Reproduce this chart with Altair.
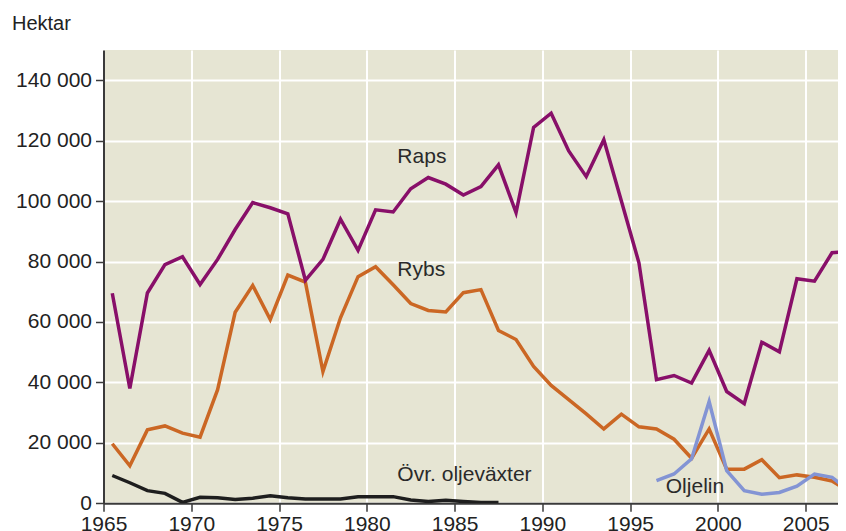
import altair as alt
import pandas as pd

# ---- data (hectares) ----
years_main = list(range(1965, 2008))
raps = [69500, 38000, 69600, 79000, 81600, 72400, 80700, 90600, 99500, 97800,
        95800, 73800, 80700, 94000, 83700, 97100, 96400, 104100, 107800, 105600,
        102000, 104800, 112000, 96200, 124400, 129100, 116600, 108100, 120300, 100000,
        79600, 40900, 42300, 39800, 50600, 37000, 33000, 53300, 50100, 74300,
        73500, 82900, 83500]
rybs = [19700, 12400, 24300, 25600, 23200, 21900, 37600, 63200, 72100, 60800,
        75500, 73200, 43600, 61400, 75000, 78300, 72300, 66100, 63800, 63300,
        69700, 70700, 57200, 54200, 45300, 39000, 34300, 29600, 24600, 29500,
        25300, 24600, 21200, 14900, 24600, 11300, 11300, 14400, 8500, 9400,
        8600, 7400, 3800]
years_oljelin = list(range(1996, 2008))
oljelin = [7500, 9700, 14700, 33700, 10800, 4200, 3000, 3600, 5700, 9700, 8600, 4000]
years_ovr = list(range(1965, 1988))
ovr = [9200, 6800, 4200, 3300, 300, 2000, 1800, 1300, 1700, 2500, 1800, 1400,
       1400, 1400, 2200, 2200, 2200, 1100, 600, 1000, 600, 300, 300]

label_text = ["Raps", "Rybs", "Övr. oljeväxter", "Oljelin"]
label_year = [1981.74, 1981.74, 1981.74, 1997.03]
label_value = [112600, 75300, 7500, 3300]

x_ticks = [1965, 1970, 1975, 1980, 1985, 1990, 1995, 2000, 2005]
y_ticks = [0, 20000, 40000, 60000, 80000, 100000, 120000, 140000]

FONT = "Liberation Sans"

def series_df(years, values):
    return pd.DataFrame({"year": years, "value": values})

x_scale = alt.Scale(domain=[1965, 2006.84], nice=False, zero=False)
y_scale = alt.Scale(domain=[0, 150000], nice=False)

x_axis = alt.Axis(values=x_ticks, format="d", title=None, grid=True,
                  gridColor="white", gridWidth=2, domainColor="#3a3a3a",
                  domainWidth=2, tickColor="#3a3a3a", tickWidth=1.5, tickSize=8,
                  labelFont=FONT, labelFontSize=21, labelColor="#222222",
                  labelPadding=2, labelFlush=False, labelOverlap=False)
y_axis = alt.Axis(values=y_ticks, title=None, grid=True,
                  gridColor="white", gridWidth=2, domainColor="#3a3a3a",
                  domainWidth=2, tickColor="#3a3a3a", tickWidth=1.5, tickSize=8,
                  labelFont=FONT, labelFontSize=21, labelColor="#222222",
                  labelPadding=4,
                  labelExpr="replace(format(datum.value, ','), ',', ' ')")

def line(years, values, color, with_axes=False):
    base = alt.Chart(series_df(years, values)).transform_calculate(
        xmid="datum.year + 0.5"
    ).mark_line(color=color, strokeWidth=3.5, clip=True)
    if with_axes:
        return base.encode(
            x=alt.X("xmid:Q", scale=x_scale, axis=x_axis),
            y=alt.Y("value:Q", scale=y_scale, axis=y_axis),
        )
    return base.encode(
        x=alt.X("xmid:Q", scale=x_scale),
        y=alt.Y("value:Q", scale=y_scale),
    )

rybs_line = line(years_main, rybs, "#CB6724", with_axes=True)
raps_line = line(years_main, raps, "#880F69")
oljelin_line = line(years_oljelin, oljelin, "#8394D4")
ovr_line = line(years_ovr, ovr, "#1E1E1E")

labels = alt.Chart(pd.DataFrame({
    "label": label_text, "year": label_year, "value": label_value
})).mark_text(align="left", baseline="alphabetic", font=FONT, fontSize=21,
              color="#2a2a2a").encode(
    x=alt.X("year:Q", scale=x_scale),
    y=alt.Y("value:Q", scale=y_scale),
    text="label:N",
)

chart = alt.layer(rybs_line, raps_line, oljelin_line, ovr_line, labels).properties(
    width=734.5,
    height=453.3,
    padding={"left": 95.5, "top": 42, "right": 0, "bottom": 27.7},
    autosize=alt.AutoSizeParams(type="none"),
    background="white",
    title=alt.TitleParams(text="Hektar", anchor="start", frame="group",
                          offset=16.5, dx=-91.5, font=FONT, fontSize=20,
                          fontWeight="normal", color="#222222"),
).configure_view(fill="#E6E5D3", strokeWidth=0)

chart.save("out.html", embed_options={"renderer": "svg", "actions": False})
